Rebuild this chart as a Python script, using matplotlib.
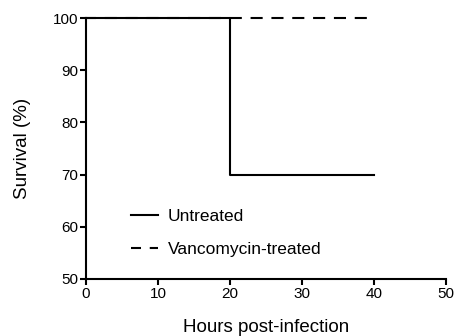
import matplotlib
matplotlib.use("Agg")
import matplotlib.pyplot as plt

plt.rcParams['font.family'] = ['Liberation Sans', 'DejaVu Sans']

# survival data
hours_untreated = [0, 20, 40]
surv_untreated = [100, 70, 70]
hours_vanco = [0, 40]
surv_vanco = [100, 100]

x_ticks = [0, 10, 20, 30, 40, 50]
y_ticks = [50, 60, 70, 80, 90, 100]

fig = plt.figure(figsize=(4.57, 3.36), dpi=100)
ax = fig.add_axes([86 / 457, 1 - 279 / 336, 360 / 457, 261 / 336])

ax.plot(hours_untreated, surv_untreated, color='black', lw=1.5,
        drawstyle='steps-post', label='Untreated', clip_on=False, zorder=3)
ax.plot(hours_vanco, surv_vanco, color='black', lw=1.5, ls=(1, (5.8, 4.2)),
        label='Vancomycin-treated', clip_on=False, zorder=2)

ax.set_xlim(0, 50)
ax.set_ylim(50, 100)
ax.set_xticks(x_ticks)
ax.set_yticks(y_ticks)
ax.spines['top'].set_visible(False)
ax.spines['right'].set_visible(False)
for s in ('left', 'bottom'):
    ax.spines[s].set_linewidth(1.5)
ax.tick_params(direction='out', length=4, width=1.5, labelsize=11, pad=1.5)

ax.set_xlabel('Hours post-infection', fontsize=13.5, labelpad=13)
ax.set_ylabel('Survival (%)', fontsize=13.5, labelpad=16)

ax.legend(loc='lower left', bbox_to_anchor=(0.082, 0.025), frameon=False,
          fontsize=12.5, handlelength=1.55, handletextpad=0.58, labelspacing=1.02)

fig.savefig('out.png', dpi=100)
